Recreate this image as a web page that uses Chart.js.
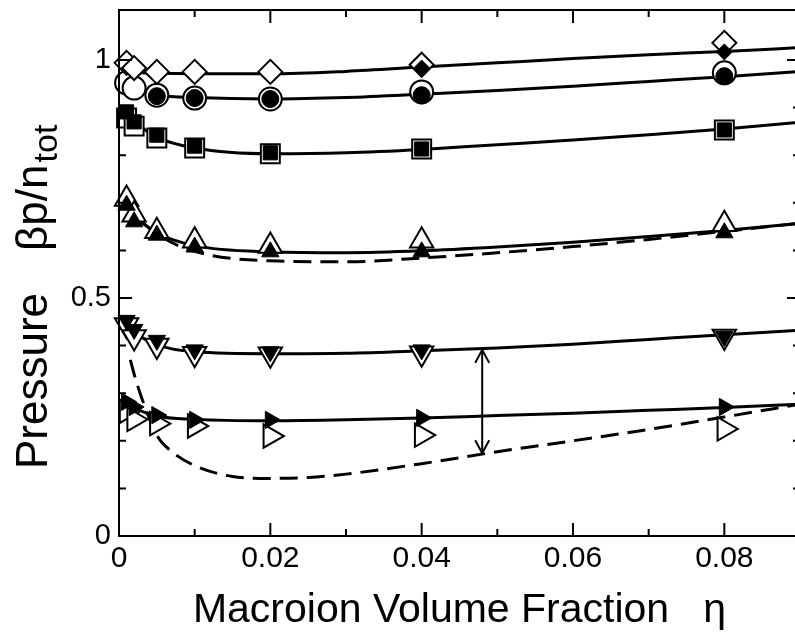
<!DOCTYPE html>
<html>
<head>
<meta charset="utf-8">
<script src="https://cdn.jsdelivr.net/npm/chart.js@4.4.0/dist/chart.umd.min.js"></script>
<style>
html, body { margin: 0; padding: 0; background: #fff; overflow: hidden; }
</style>
</head>
<body>
<canvas id="pressureChart" width="800" height="635"></canvas>
<script>
// macroion volume fraction of the data points
const eta = [0.001, 0.002, 0.005, 0.01, 0.02, 0.04, 0.08];

// open = simulation, filled = theory
const diamondOpen   = [0.994, 0.983, 0.975, 0.975, 0.975, 0.990, 1.036];
const diamondFilled = [null, null, null, null, null, 0.983, 1.017];
const circleOpen    = [0.952, 0.941, 0.926, 0.920, 0.918, 0.933, 0.973];
const circleFilled  = [null, null, 0.924, 0.920, 0.918, 0.926, 0.966];
const squareOpen    = [0.878, 0.861, 0.836, 0.815, 0.803, 0.813, 0.853];
const squareFilled  = [0.891, 0.870, 0.842, 0.819, 0.805, 0.813, 0.853];
const upOpen        = [0.708, 0.675, 0.640, 0.620, 0.609, 0.620, 0.655];
const upFilled      = [0.695, 0.660, 0.632, 0.607, 0.597, 0.597, 0.637];
const downOpen      = [0.443, 0.418, 0.400, 0.383, 0.382, 0.384, 0.419];
const downFilled    = [0.453, 0.434, 0.411, 0.391, 0.387, 0.391, 0.419];
const rightOpen     = [0.262, 0.245, 0.236, 0.231, 0.210, 0.212, 0.225];
const rightFilled   = [0.282, 0.271, 0.254, 0.244, 0.244, 0.248, 0.271];

// fitted curves
const fitEta     = [0.001, 0.002, 0.005, 0.01, 0.02, 0.03, 0.04, 0.05, 0.06, 0.07, 0.08, 0.09];
const fitDiamond = [0.976, 0.974, 0.972, 0.971, 0.971, 0.976, 0.985, 0.994, 1.003, 1.011, 1.018, 1.026];
const fitCircle  = [null, 0.935, 0.926, 0.921, 0.918, 0.921, 0.928, 0.936, 0.945, 0.955, 0.965, 0.976];
const fitSquare  = [0.890, 0.872, 0.838, 0.815, 0.803, 0.805, 0.812, 0.822, 0.832, 0.843, 0.855, 0.869];
const fitUp      = [0.700, 0.675, 0.637, 0.610, 0.597, 0.595, 0.599, 0.607, 0.617, 0.629, 0.642, 0.657];
const dashUp     = [0.710, 0.680, 0.635, 0.598, 0.578, 0.576, 0.584, 0.595, 0.608, 0.623, 0.640, 0.657];
const fitDown    = [0.452, 0.430, 0.402, 0.387, 0.383, 0.384, 0.389, 0.395, 0.403, 0.413, 0.423, 0.432];
const fitRight   = [0.282, 0.270, 0.252, 0.245, 0.242, 0.244, 0.248, 0.253, 0.258, 0.264, 0.270, 0.277];

const dashEta = [0.0015, 0.002, 0.003, 0.005, 0.007, 0.01, 0.015, 0.02, 0.025, 0.03, 0.04, 0.05, 0.06, 0.07, 0.08, 0.09];
const dashLow = [0.370, 0.340, 0.290, 0.212, 0.177, 0.148, 0.125, 0.121, 0.123, 0.130, 0.152, 0.177, 0.200, 0.224, 0.250, 0.277];

// double arrow
const arrowEta = [0.048, 0.048];
const arrowP   = [0.391, 0.174];

// ticks
const xMajor = [0, 0.02, 0.04, 0.06, 0.08];
const xMinor = [0.01, 0.03, 0.05, 0.07, 0.09];
const yMajor = [0, 0.5, 1];
const yMinor = [0.1, 0.2, 0.3, 0.4, 0.6, 0.7, 0.8, 0.9];

const FONT = "'Liberation Sans', Arial, Helvetica, sans-serif";

function pts(xs, ys) {
    return xs.map((x, i) => ys[i] == null ? null : { x: x, y: ys[i] }).filter(p => p);
}

function markers(ys, style, radius, filled, rotation) {
    return {
        data: pts(eta, ys),
        showLine: false,
        pointStyle: style,
        pointRadius: radius,
        pointRotation: rotation || 0,
        pointBackgroundColor: filled ? '#000' : '#fff',
        pointBorderColor: '#000',
        pointBorderWidth: filled ? 1 : 2,
        order: filled ? 1 : 2,
        clip: false
    };
}

function curve(xs, ys, dashed, width) {
    return {
        data: pts(xs, ys),
        showLine: true,
        borderColor: '#000',
        borderWidth: width || 3,
        borderDash: dashed ? [18, 9] : [],
        pointRadius: 0,
        cubicInterpolationMode: 'monotone',
        fill: false,
        order: 3
    };
}

const near = (v, list) => list.some(t => Math.abs(v - t) < 1e-6);

// frame, inward ticks, arrow heads and the y title
const decorations = {
    id: 'decorations',
    afterDraw(chart) {
        const ctx = chart.ctx;
        const a = chart.chartArea;
        const xs = chart.scales.x, ys = chart.scales.y;
        ctx.save();
        ctx.strokeStyle = '#000';
        ctx.lineWidth = 2;
        ctx.strokeRect(a.left, a.top, a.right - a.left, a.bottom - a.top);

        ctx.beginPath();
        const xt = (v, len) => {
            const px = xs.getPixelForValue(v);
            ctx.moveTo(px, a.bottom); ctx.lineTo(px, a.bottom - len);
            ctx.moveTo(px, a.top); ctx.lineTo(px, a.top + len);
        };
        const yt = (v, len) => {
            const py = ys.getPixelForValue(v);
            ctx.moveTo(a.left, py); ctx.lineTo(a.left + len, py);
            ctx.moveTo(a.right, py); ctx.lineTo(a.right - len, py);
        };
        xMajor.forEach(v => xt(v, 13));
        xMinor.forEach(v => xt(v, 7));
        yMajor.forEach(v => yt(v, 13));
        yMinor.forEach(v => yt(v, 7));
        ctx.stroke();

        // arrow heads
        const ax = xs.getPixelForValue(arrowEta[0]);
        const ay1 = ys.getPixelForValue(arrowP[0]);
        const ay2 = ys.getPixelForValue(arrowP[1]);
        ctx.lineWidth = 2;
        ctx.beginPath();
        ctx.moveTo(ax - 7, ay1 + 13); ctx.lineTo(ax, ay1); ctx.lineTo(ax + 7, ay1 + 13);
        ctx.moveTo(ax - 7, ay2 - 13); ctx.lineTo(ax, ay2); ctx.lineTo(ax + 7, ay2 - 13);
        ctx.stroke();

        // y axis title with subscript
        ctx.fillStyle = '#000';
        ctx.translate(47, 469);
        ctx.rotate(-Math.PI / 2);
        ctx.textAlign = 'left';
        ctx.textBaseline = 'alphabetic';
        ctx.font = '44px ' + FONT;
        ctx.fillText('Pressure', 0, 0);
        let w = ctx.measureText('Pressure').width + 42;
        ctx.fillText('βp/n', w, 0);
        w += ctx.measureText('βp/n').width + 2;
        ctx.font = '34px ' + FONT;
        ctx.fillText('tot', w, 10);
        ctx.restore();
    }
};

const ctx = document.getElementById('pressureChart').getContext('2d');

const pressureChart = new Chart(ctx, {
    type: 'scatter',
    data: {
        datasets: [
            curve(fitEta, fitDiamond),
            curve(fitEta, fitCircle),
            curve(fitEta, fitSquare),
            curve(fitEta, fitUp),
            curve(fitEta, dashUp, true),
            curve(fitEta, fitDown),
            curve(fitEta, fitRight),
            curve(dashEta, dashLow, true),
            curve(arrowEta, arrowP, false, 2),
            markers(diamondOpen, 'rectRot', 12, false),
            markers(diamondFilled, 'rectRot', 8, true),
            markers(circleOpen, 'circle', 11.5, false),
            markers(circleFilled, 'circle', 8.5, true),
            markers(squareOpen, 'rect', 13.4, false),
            markers(squareFilled, 'rect', 10, true),
            markers(upOpen, 'triangle', 13.5, false),
            markers(upFilled, 'triangle', 10, true),
            markers(downOpen, 'triangle', 13.5, false, 180),
            markers(downFilled, 'triangle', 10, true, 180),
            markers(rightOpen, 'triangle', 13.5, false, 90),
            markers(rightFilled, 'triangle', 10, true, 90)
        ]
    },
    options: {
        responsive: false,
        animation: false,
        devicePixelRatio: 1,
        events: [],
        layout: { autoPadding: false, padding: { top: 10, right: 0, left: 0, bottom: 0 } },
        plugins: {
            legend: { display: false },
            tooltip: { enabled: false }
        },
        scales: {
            x: {
                type: 'linear',
                min: 0,
                max: 0.09,
                grid: { display: false, drawTicks: false },
                border: { display: false },
                ticks: {
                    stepSize: 0.01,
                    autoSkip: false,
                    maxRotation: 0,
                    includeBounds: false,
                    padding: 5,
                    color: '#000',
                    font: { family: FONT, size: 30 },
                    callback: v => near(v, xMajor) ? (v === 0 ? '0' : v.toFixed(2)) : ''
                },
                title: {
                    display: true,
                    text: 'Macroion Volume Fraction   η',
                    color: '#000',
                    font: { family: FONT, size: 41, lineHeight: 1.2 },
                    padding: { top: 0, bottom: 0 }
                },
                afterFit: s => { s.height = 99; s.paddingLeft = 0; s.paddingRight = 0; }
            },
            y: {
                min: 0,
                max: 1.105,
                grid: { display: false, drawTicks: false },
                border: { display: false },
                ticks: {
                    stepSize: 0.1,
                    autoSkip: false,
                    includeBounds: false,
                    padding: 8,
                    color: '#000',
                    font: { family: FONT, size: 29 },
                    callback: v => near(v, yMajor) ? String(Math.round(v * 10) / 10) : ''
                },
                afterFit: s => { s.width = 119; s.paddingTop = 0; s.paddingBottom = 0; }
            }
        }
    },
    plugins: [decorations]
});
</script>
</body>
</html>
